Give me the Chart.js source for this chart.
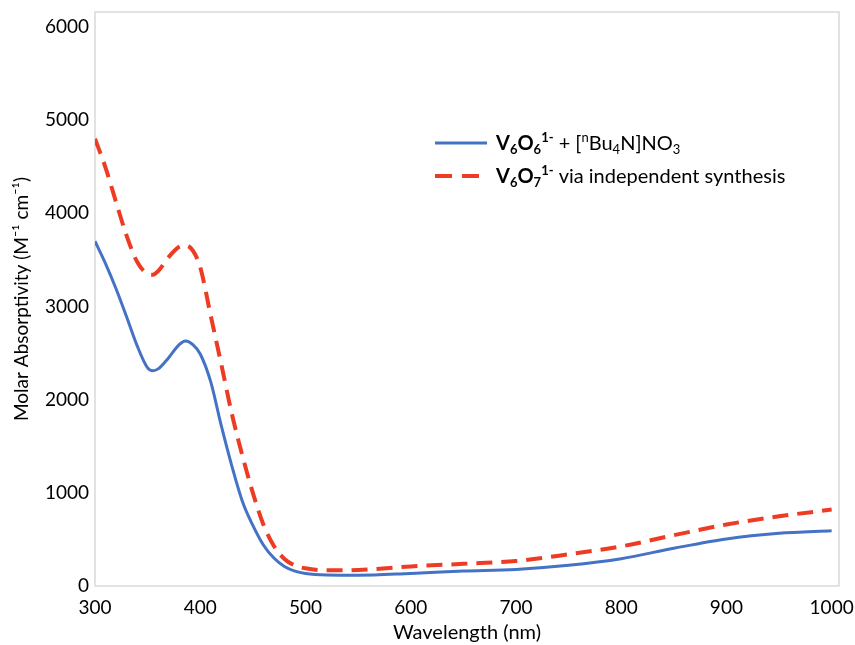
<!DOCTYPE html>
<html lang="en">
  <head>
    <meta charset="UTF-8" />
    <script src="https://cdn.jsdelivr.net/npm/chart.js@4.4.0/dist/chart.umd.min.js"></script>
    <title>UV-Vis absorptivity</title>
    <style>
      html, body { margin: 0; padding: 0; background: #fff; }
      #wrap { width: 855px; height: 645px; }
    </style>
  </head>
  <body>
    <div id="wrap"><canvas id="chart" width="855" height="645"></canvas></div>
    <script>
      // wavelength (nm) and molar absorptivity (M-1 cm-1)
      let wavelengths = [300, 310, 320, 330, 340, 350, 355, 360, 370, 380, 386, 393, 400, 410, 420, 430, 440, 450, 460, 470, 480, 490, 500, 520, 550, 600, 650, 700, 750, 800, 850, 900, 950, 1000];
      let nitrateMix = [3700, 3460, 3190, 2890, 2580, 2340, 2310, 2330, 2450, 2590, 2630, 2590, 2490, 2190, 1720, 1290, 910, 650, 440, 300, 210, 160, 135, 118, 115, 135, 160, 178, 222, 293, 405, 505, 565, 592];
      let independent = [4800, 4490, 4120, 3760, 3480, 3350, 3340, 3380, 3530, 3640, 3655, 3600, 3420, 2900, 2380, 1850, 1400, 1000, 660, 430, 290, 220, 190, 168, 172, 210, 238, 268, 340, 425, 545, 660, 748, 820];
      let xTicks = [300, 400, 500, 600, 700, 800, 900, 1000];
      let yTicks = [0, 1000, 2000, 3000, 4000, 5000, 6000];

      const FONT = "Lato, 'Open Sans', sans-serif";
      const DASH = [16, 9];

      // light grey box round the plot area
      const frame = {
        id: "frame",
        beforeDatasetsDraw(chart) {
          const a = chart.chartArea;
          const c = chart.ctx;
          c.save();
          c.strokeStyle = "#d9d9d9";
          c.lineWidth = 1.5;
          c.strokeRect(a.left, a.top, a.right - a.left, a.bottom - a.top);
          c.restore();
        },
      };

      // legend with sub- and superscripts
      const rows = [
        {
          color: "#4472C4",
          dash: [],
          end: 487,
          parts: [
            { t: "V", b: 1 }, { t: "6", b: 1, s: "sub" }, { t: "O", b: 1 }, { t: "6", b: 1, s: "sub" },
            { t: "1-", b: 1, s: "sup" }, { t: " + [" }, { t: "n", s: "sup" }, { t: "Bu" },
            { t: "4", s: "sub" }, { t: "N]NO" }, { t: "3", s: "sub" },
          ],
        },
        {
          color: "#EE3B24",
          dash: [17, 10],
          end: 479,
          parts: [
            { t: "V", b: 1 }, { t: "6", b: 1, s: "sub" }, { t: "O", b: 1 }, { t: "7", b: 1, s: "sub" },
            { t: "1-", b: 1, s: "sup" }, { t: " via independent synthesis" },
          ],
        },
      ];

      const richLegend = {
        id: "richLegend",
        afterDraw(chart) {
          const c = chart.ctx;
          c.save();
          rows.forEach((row, i) => {
            const y = 143 + i * 33;
            c.strokeStyle = row.color;
            c.lineWidth = row.dash.length ? 4 : 3;
            c.setLineDash(row.dash);
            c.beginPath();
            c.moveTo(435, y);
            c.lineTo(row.end, y);
            c.stroke();
            c.setLineDash([]);
            let x = 496;
            c.fillStyle = "#000";
            c.textBaseline = "alphabetic";
            row.parts.forEach((p) => {
              const size = p.s ? 13 : 20;
              c.font = (p.b ? "bold " : "") + size + "px " + FONT;
              let dy = 7;
              if (p.s === "sub") dy = 11;
              if (p.s === "sup") dy = -1;
              c.fillText(p.t, x, y + dy);
              x += c.measureText(p.t).width;
            });
          });
          c.restore();
        },
      };

      let ctx = document.getElementById("chart").getContext("2d");
      let myChart = new Chart(ctx, {
        type: "line",
        data: {
          labels: wavelengths,
          datasets: [
            {
              label: "V6O6 1- + [nBu4N]NO3",
              data: wavelengths.map((w, i) => ({ x: w, y: nitrateMix[i] })),
              borderColor: "#4472C4",
              borderWidth: 3,
              pointRadius: 0,
              cubicInterpolationMode: "monotone",
            },
            {
              label: "V6O7 1- via independent synthesis",
              data: wavelengths.map((w, i) => ({ x: w, y: independent[i] })),
              borderColor: "#EE3B24",
              borderWidth: 4,
              borderDash: DASH,
              pointRadius: 0,
              cubicInterpolationMode: "monotone",
            },
          ],
        },
        options: {
          responsive: false,
          animation: false,
          layout: { padding: { top: 12, right: 16, left: 0, bottom: 0 } },
          plugins: { legend: { display: false }, tooltip: { enabled: false } },
          scales: {
            x: {
              type: "linear",
              min: 300,
              max: 1007,
              grid: { display: false, drawTicks: false },
              border: { display: false },
              afterBuildTicks: (scale) => {
                scale.ticks = xTicks.map((v) => ({ value: v }));
              },
              afterFit: (scale) => {
                scale.height = 59;
                scale.paddingLeft = 0;
                scale.paddingRight = 0;
              },
              ticks: { color: "#000", padding: 10, font: { family: FONT, size: 19 }, callback: (v) => String(v) },
              title: {
                display: true,
                text: "Wavelength (nm)",
                color: "#000",
                padding: { top: 0, bottom: 0 },
                font: { family: FONT, size: 20 },
              },
            },
            y: {
              min: 0,
              max: 6160,
              grid: { display: false, drawTicks: false },
              border: { display: false },
              afterBuildTicks: (scale) => {
                scale.ticks = yTicks.map((v) => ({ value: v }));
              },
              afterFit: (scale) => {
                scale.width = 95;
                scale.paddingTop = 0;
                scale.paddingBottom = 0;
              },
              ticks: { color: "#000", padding: 6, font: { family: FONT, size: 19 }, callback: (v) => String(v) },
              title: {
                display: true,
                text: "Molar Absorptivity (M\u207B\u00B9 cm\u207B\u00B9)",
                color: "#000",
                padding: { top: 10, bottom: 0 },
                font: { family: FONT, size: 19 },
              },
            },
          },
        },
        plugins: [frame, richLegend],
      });
    </script>
  </body>
</html>
